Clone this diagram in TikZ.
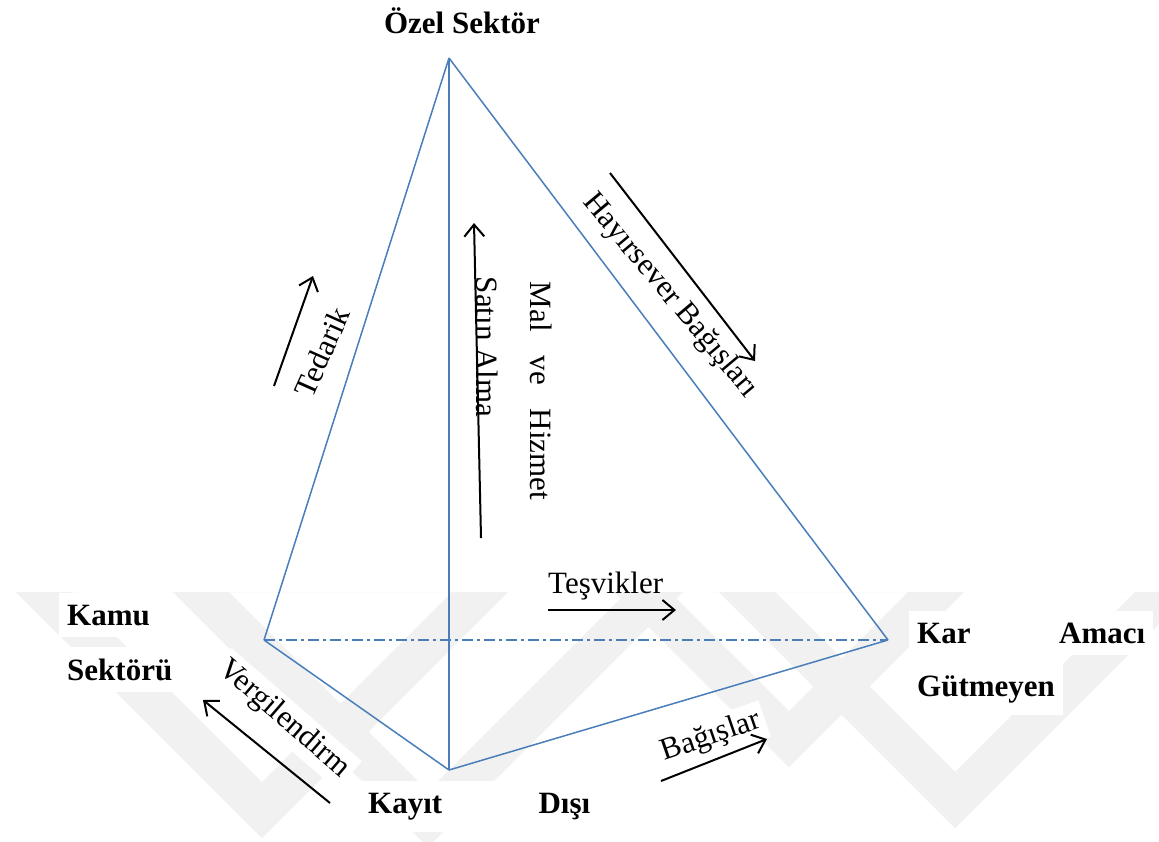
\documentclass[tikz,border=0pt]{standalone}
\usepackage{fontspec}
\setmainfont{Liberation Serif}
\usetikzlibrary{arrows.meta}

\definecolor{edgeblue}{HTML}{4A7EBB}
\definecolor{wmgray}{HTML}{F1F1F1}

\tikzset{
  edge/.style={edgeblue, line width=1.5pt},
  hiddenedge/.style={edge, dash pattern=on 11pt off 4pt on 3pt off 4pt},
  flow/.style={black, line width=2pt, -{Straight Barb[length=12pt,width=20pt]}},
  lbl/.style={font=\fontsize{31}{36}\selectfont, inner sep=0pt},
  party/.style={font=\fontsize{31}{36}\selectfont\bfseries, inner sep=0pt},
  boxed/.style={fill=white, inner xsep=8pt, inner ysep=12pt},
  band/.style={fill=wmgray, draw=none, even odd rule},
}

% a chevron band: apex (#1,#2) of its centre line, horizontal half width #3, cut at y=-592
\newcommand{\chevronband}[3]{%
  \fill[band]
    ({#1-(#2+#3-592)},-592) -- (#1,{-(#2+#3)}) -- ({#1+(#2+#3-592)},-592) -- cycle
    ({#1-(#2-#3-592)},-592) -- (#1,{-(#2-#3)}) -- ({#1+(#2-#3-592)},-592) -- cycle;}

\begin{document}
\begin{tikzpicture}[x=1pt,y=1pt]
  \useasboundingbox (0,0) rectangle (1159,-841);
  \fill[white] (0,0) rectangle (1159,-841);

  % faint background mark
  \begin{scope}
    \clip (0,-592) rectangle (1159,-841);
    \chevronband{262}{810}{28}
    \chevronband{428}{819}{28}
    \chevronband{789}{739}{28}
    \chevronband{955}{800}{28}
  \end{scope}

  % corners of the solid
  \coordinate (apex)   at (449,-58);
  \coordinate (left)   at (264,-640);
  \coordinate (right)  at (888,-640);
  \coordinate (bottom) at (449,-770);

  \draw[edge] (apex) -- (left);
  \draw[edge] (apex) -- (right);
  \draw[edge] (apex) -- (bottom);
  \draw[edge] (left) -- (bottom);
  \draw[edge] (bottom) -- (right);
  \draw[hiddenedge] (left) -- (right);

  % sector labels
  \node[party, anchor=base] (ozel) at (462,-33) {Özel Sektör};
  \node[party, boxed, anchor=base west] (kamu1) at (59,-625) {Kamu};
  \node[party, boxed, anchor=base west] (kamu2) at (59,-680) {Sektörü};
  \node[party, boxed, anchor=base west] (kar1) at (909,-643) {\makebox[228pt]{Kar\hfill Amacı}};
  \node[party, boxed, anchor=base west] (kar2) at (909,-696) {Gütmeyen};
  \node[party, boxed, anchor=base west] (kayit) at (360,-813) {\makebox[222pt]{Kayıt\hfill Dışı}};

  % flows between sectors
  \coordinate (tedS) at (274,-386);  \coordinate (tedE) at (313,-276);
  \draw[flow] (tedS) -- (tedE);
  \node[lbl, rotate=66] (tedarik) at (322,-352) {Tedarik};

  \coordinate (satS) at (481,-538);  \coordinate (satE) at (474,-223);
  \draw[flow] (satS) -- (satE);
  \node[lbl, rotate=-90] (satin) at (487,-347) {Satın Alma};

  \node[lbl, rotate=-90] (mal) at (541,-391) {Mal\hspace{24pt}ve\hspace{24pt}Hizmet};

  \coordinate (hayS) at (610,-173);  \coordinate (hayE) at (755,-361);
  \draw[flow] (hayS) -- (hayE);
  \node[lbl, rotate=-50] (hayir) at (670,-296) {Hayırsever Bağışları};

  \coordinate (tesS) at (548,-610);  \coordinate (tesE) at (676,-610);
  \draw[flow] (tesS) -- (tesE);
  \node[lbl, anchor=base west] (tesvik) at (548,-593) {Teşvikler};

  \node[lbl, rotate=-41, fill=white, inner sep=5pt] (vergi) at (284,-719) {Vergilendirm};
  \coordinate (verS) at (330,-803);  \coordinate (verE) at (203,-700);
  \draw[flow] (verS) -- (verE);

  \node[lbl, rotate=19, fill=white, inner sep=5pt] (bagis) at (711,-737) {Bağışlar};
  \coordinate (bagS) at (661,-781);  \coordinate (bagE) at (767,-739);
  \draw[flow] (bagS) -- (bagE);
\end{tikzpicture}
\end{document}
